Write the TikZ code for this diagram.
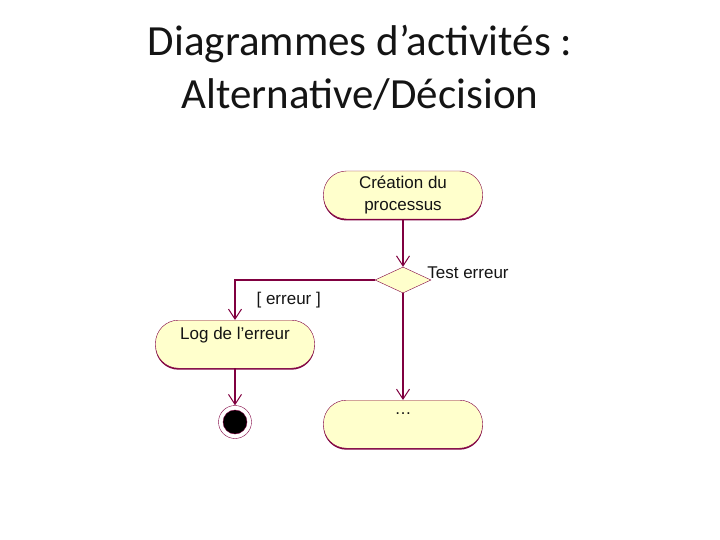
\documentclass[tikz,border=0pt]{standalone}
\usepackage{fontspec}
\setmainfont{Liberation Sans}
\newfontfamily\titlefont{Carlito}
\usetikzlibrary{positioning, arrows.meta, shapes.geometric, shadows}
\definecolor{umlwine}{RGB}{128,0,64}
\definecolor{umlcream}{RGB}{255,255,204}
\definecolor{inkblack}{RGB}{20,20,20}

\begin{document}
\begin{tikzpicture}[
    x=1pt, y=-1pt,
    every node/.style={text=inkblack},
    title/.style={font=\titlefont\fontsize{43}{53}\selectfont, align=center},
    txt/.style={font=\fontsize{17}{22}\selectfont, inner sep=0pt},
    actbox/.style={draw=umlwine, fill=umlcream, rounded corners=23pt, minimum width=159pt, minimum height=48pt,
                   align=center, font=\fontsize{17}{22}\selectfont,
                   drop shadow={shadow xshift=0pt, shadow yshift=-1.5pt, fill=umlwine, opacity=1}},
    decision/.style={draw=umlwine, fill=umlcream, diamond, minimum width=56pt, minimum height=26pt, inner sep=0pt},
    finalring/.style={draw=umlwine, fill=white, circle, minimum size=33pt, inner sep=0pt},
    finalcore/.style={draw=umlwine, fill=black, circle, minimum size=24pt, inner sep=0pt},
    flow/.style={draw=umlwine, line width=1.2pt, -{Straight Barb[length=10pt, width=13pt, line width=1pt]}},
]
\useasboundingbox (0,0) rectangle (720,540);

% ---------------------------------------------------------------- title ---
\node[title] (head) at (360,68) {Diagrammes d’activités :\\Alternative/Décision};

% -------------------------------------------------------------- actions ---
\node[actbox] (creation) at (403,195) {Création du\\processus};
\node[decision] (test) at (403,280) {};
\node[txt, anchor=west] (testlbl) at ([xshift=-4pt, yshift=7pt]test.east) {Test erreur};

\node[actbox, anchor=north] (log) at (235,320) {Log de l{\char"0027}erreur\\ \mbox{}};
\node[finalring] (end) at (235,422) {};
\node[finalcore] (endcore) at (end) {};

\node[actbox, anchor=north] (next) at (403,400) {\ldots\\ \mbox{}};

% ---------------------------------------------------------- transitions ---
\draw[flow] (creation) -- (test);
\draw[flow] (test.west) -| node[txt, pos=0.75, anchor=west, xshift=21pt] (guard) {[ erreur ]} (log.north);
\draw[flow] (test) -- (next);
\draw[flow] (log) -- (end);

\end{tikzpicture}
\end{document}
